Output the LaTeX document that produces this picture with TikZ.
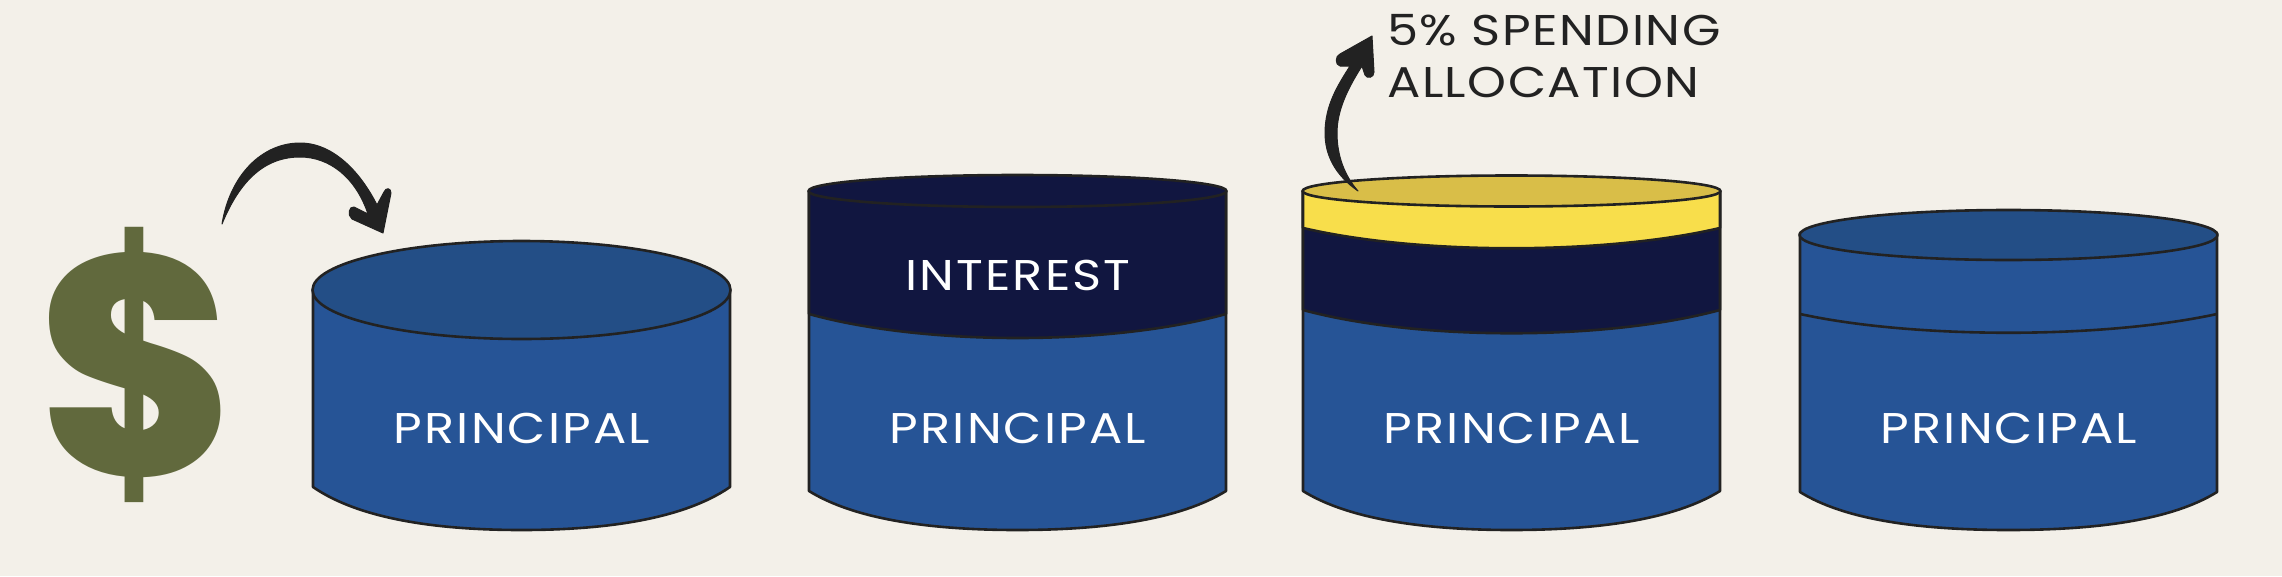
\documentclass[tikz,border=0pt]{standalone}
\usepackage{fontspec}
\setmainfont{Poppins}[LetterSpace=5,FakeStretch=1.15]
\newfontfamily\notefont{Poppins}[LetterSpace=3.5,FakeStretch=1.15]
\newfontfamily\dollarfont{Poppins}[UprightFont=* ExtraBold]
\definecolor{paper}{HTML}{F3F0E9}
\definecolor{bluebody}{HTML}{265496}
\definecolor{bluetop}{HTML}{234E86}
\definecolor{navy}{HTML}{111640}
\definecolor{yellowband}{HTML}{F8DE4B}
\definecolor{yellowtop}{HTML}{D9BE48}
\definecolor{olive}{HTML}{61693D}
\definecolor{ink}{HTML}{222222}
\tikzset{
  edge/.style={draw=ink,line width=2.6pt,line join=round},
  label/.style={font=\fontsize{43}{43}\selectfont,text=white,anchor=base,inner sep=0pt},
  note/.style={font=\notefont\fontsize{43}{43}\selectfont,text=ink,anchor=base west,inner sep=0pt},
  swoosh/.style={fill=ink,draw=ink,line width=1pt,line join=round}
}
\begin{document}
\begin{tikzpicture}[x=1pt,y=-1pt]
\useasboundingbox (0,0) rectangle (2282,576);
\fill[paper] (0,0) rectangle (2282,576);
% dollar
\node[inner sep=0pt,text=olive] (dollar) at (136.5,364.5) {\resizebox{196pt}{248pt}{\dollarfont\$}};
% cylinder 1
\begin{scope}[shift={(313,0)}]
\path[edge,fill=bluebody] (0,290) -- (0,487) .. controls (45,518) and (120,530) .. (208.5,530) .. controls (297,530) and (372,518) .. (417,487) -- (417,290) -- cycle;
\path[edge,fill=bluetop] (208.5,290) ellipse [x radius=209pt,y radius=49pt];
\node[label] (p1) at (209,443) {PRINCIPAL};
\end{scope}
% cylinder 2
\begin{scope}[shift={(809,0)}]
\path[edge,fill=bluebody] (0,191) -- (0,491) .. controls (45,519) and (120,530) .. (208.5,530) .. controls (297,530) and (372,519) .. (417,491) -- (417,191) -- cycle;
\path[edge,fill=navy] (0,191) -- (0,314) .. controls (115,346) and (302,346) .. (417,314) -- (417,191) -- cycle;
\path[edge,fill=navy] (208.5,191) ellipse [x radius=209pt,y radius=16pt];
\node[label] (i2) at (209,290) {INTEREST};
\node[label] (p2) at (209,443) {PRINCIPAL};
\end{scope}
% cylinder 3
\begin{scope}[shift={(1303,0)}]
\path[edge,fill=bluebody] (0,191) -- (0,491) .. controls (45,519) and (120,530) .. (208.5,530) .. controls (297,530) and (372,519) .. (417,491) -- (417,191) -- cycle;
\path[edge,fill=navy] (0,191) -- (0,310) .. controls (115,341) and (302,341) .. (417,310) -- (417,191) -- cycle;
\path[edge,fill=yellowband] (0,191) -- (0,228) .. controls (115,255) and (302,255) .. (417,228) -- (417,191) -- cycle;
\path[edge,fill=yellowtop] (208.5,191) ellipse [x radius=209pt,y radius=15.5pt];
\node[label] (p3) at (209,443) {PRINCIPAL};
\end{scope}
% cylinder 4
\begin{scope}[shift={(1800,0)}]
\path[edge,fill=bluebody] (0,233) -- (0,492) .. controls (45,520) and (120,530) .. (208.5,530) .. controls (297,530) and (372,520) .. (417,492) -- (417,233) -- cycle;
\path[edge] (0,314) .. controls (115,339) and (302,339) .. (417,314);
\path[edge,fill=bluetop] (208.5,235) ellipse [x radius=209pt,y radius=25pt];
\node[label] (p4) at (209,443) {PRINCIPAL};
\end{scope}
% arrow into cylinder 1
\fill[swoosh] (222,224) .. controls (230,175) and (262,143) .. (300,143)
  .. controls (335,143) and (362,175) .. (377,205)
  -- (384,192) .. controls (386,187) and (391,188) .. (391,193)
  -- (383,233) -- (352,219) .. controls (347,215) and (349,206) .. (354,207)
  -- (368,214) .. controls (356,178) and (330,157) .. (300,157)
  .. controls (265,157) and (240,180) .. (222,224) -- cycle;
% arrow out of cylinder 3
\fill[swoosh] (1358,191) .. controls (1335,175) and (1325,155) .. (1325,133)
  .. controls (1325,105) and (1338,85) .. (1350,66)
  -- (1340,66) .. controls (1335,65) and (1335,56) .. (1340,54)
  -- (1372,36) -- (1374,72) .. controls (1374,78) and (1367,79) .. (1365,75)
  -- (1362,66) .. controls (1348,88) and (1337,110) .. (1337,133)
  .. controls (1337,155) and (1344,175) .. (1358,191) -- cycle;
\node[note] (n1) at (1387,45) {5\% SPENDING};
\node[note] (n2) at (1387,97) {ALLOCATION};
\end{tikzpicture}
\end{document}
